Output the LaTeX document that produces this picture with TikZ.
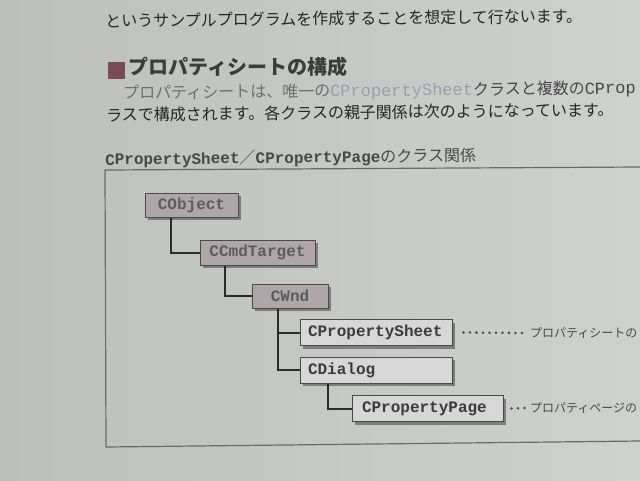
\documentclass[tikz,border=0pt]{standalone}
\usepackage{fontspec}
\usetikzlibrary{shadows}
\newfontfamily\jp{Noto Sans CJK JP}
\newfontfamily\codefont{Liberation Mono}
\definecolor{bgl}{HTML}{BDBFBD}
\definecolor{bgr}{HTML}{CFD1CF}
\definecolor{darkfill}{HTML}{AEA6A9}
\definecolor{lightfill}{HTML}{D6D7D6}
\definecolor{boxline}{HTML}{4A4A4A}
\definecolor{shadowc}{HTML}{7E7E7E}
\definecolor{connc}{HTML}{2B2B2B}
\definecolor{framec}{HTML}{6A6A6A}
\definecolor{headsq}{HTML}{7A4A58}
\definecolor{txtdark}{HTML}{262626}
\definecolor{txtmid}{HTML}{6E6E6E}
\definecolor{txtcode}{HTML}{98A1AA}
\definecolor{txtcap}{HTML}{484848}
\begin{document}
\begin{tikzpicture}[x=1pt,y=-1pt,
  boxbase/.style={draw=boxline, line width=1pt, inner ysep=0pt,
    font=\codefont\bfseries\fontsize{16}{16}\selectfont,
    drop shadow={shadow xshift=3pt, shadow yshift=-3pt, fill=shadowc, opacity=1}},
  darkbox/.style={boxbase, fill=darkfill, text=txtdark!75!white, inner xsep=0pt},
  lightbox/.style={boxbase, fill=lightfill, text=txtdark!90!white, minimum height=26pt, align=left},
  conn/.style={draw=connc, line width=2pt},
  leader/.style={draw=txtcap, line width=2.8pt, line cap=round, dash pattern=on 0pt off 6.5pt},
  note/.style={font=\jp\fontsize{12}{12}\selectfont, text=txtcap, inner sep=0pt, anchor=west},
  line/.style={inner sep=0pt, anchor=west, rotate=0.6}
]
\useasboundingbox (0,0) rectangle (640,480);
\shade[left color=bgl, right color=bgr] (0,0) rectangle (640,480);

% page text
\node[line, text=txtdark, font=\jp\fontsize{16}{16}\selectfont] (l1) at (105,21)
  {というサンプルプログラムを作成することを想定して行ないます。};
\node[fill=headsq, minimum size=17pt, inner sep=0pt] (sq) at (116,70.5) {};
\node[inner sep=0pt, anchor=west, text=txtdark!90!white, font=\jp\bfseries\fontsize{20}{20}\selectfont] (hd) at (128,67)
  {プロパティシートの構成};
\node[line, font=\fontsize{16}{16}\selectfont] (b1) at (123,94)
  {{\jp\color{txtmid}プロパティシートは、唯一の}{\codefont\fontsize{17}{17}\selectfont\color{txtcode}CPropertySheet}{\jp\color{txtdark!85!white}クラスと複数の}{\codefont\fontsize{17}{17}\selectfont\color{txtdark!85!white}CProp}};
\node[line, text=txtdark, font=\jp\fontsize{16}{16}\selectfont] (b2) at (106,115)
  {ラスで構成されます。各クラスの親子関係は次のようになっています。};
\node[line, text=txtcap, font=\fontsize{16}{16}\selectfont] (cap) at (105,160)
  {{\codefont\bfseries CPropertySheet}{\jp ／}{\codefont\bfseries CPropertyPage}{\jp のクラス関係}};

% frame
\draw[framec, line width=1.2pt] (640,167) -- (105,170) -- (106,447) -- (640,441);

% class boxes
\node[darkbox, minimum width=93pt, minimum height=24pt] (obj) at (191.5,205) {CObject};
\node[darkbox, minimum width=115pt, minimum height=25pt] (cmd) at (257.5,252.5) {CCmdTarget};
\node[darkbox, minimum width=76pt, minimum height=24pt] (wnd) at (290,296) {CWnd};
\node[lightbox, text width=136pt, inner xsep=8pt] (ps) at (376,332.5) {CPropertySheet};
\node[lightbox, text width=136pt, inner xsep=8pt] (dlg) at (376,370) {CDialog};
\node[lightbox, text width=131pt, inner xsep=10pt] (pp) at (427.5,408.5) {CPropertyPage};

% connectors
\draw[conn] ([xshift=26pt]obj.south west) |- (cmd.west);
\draw[conn] ([xshift=25pt]cmd.south west) |- (wnd.west);
\draw[conn] ([xshift=26pt]wnd.south west) |- (ps.west);
\draw[conn] ([xshift=26pt]wnd.south west) |- (dlg.west);
\draw[conn] ([xshift=28pt]dlg.south west) |- (pp.west);

% annotations
\node[note] (n1) at (530,333) {プロパティシートの};
\node[note] (n2) at (530,408) {プロパティページの};
\draw[leader] ([xshift=11pt]ps.east) -- ([xshift=-6pt]n1.west);
\draw[leader] ([xshift=8pt]pp.east) -- ([xshift=-5pt]n2.west);
\end{tikzpicture}
\end{document}
